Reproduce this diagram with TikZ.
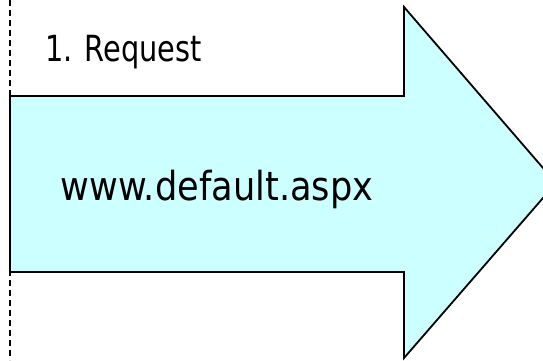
\documentclass[tikz,border=0pt]{standalone}
\usepackage{fontspec}
\setmainfont[FakeStretch=0.88]{DejaVu Sans}
\newfontfamily\narrowfont[FakeStretch=0.8]{DejaVu Sans}
\definecolor{arrowfill}{HTML}{CCFFFF}
\tikzset{
  bigarrow/.style={draw=black, line width=1.8pt, fill=arrowfill, line join=miter},
  guide/.style={draw=black, line width=1.3pt, dash pattern=on 6pt off 4pt},
  label/.style={inner sep=0pt, text=black}
}
\begin{document}
\begin{tikzpicture}[x=1pt,y=-1pt]
\useasboundingbox (0,0) rectangle (543,360);
\clip (0,0) rectangle (543,360);
\draw[bigarrow] (10,96) -- (404,96) -- (404,7) -- (556,183) -- (404,358) -- (404,272) -- (10,272) -- cycle;
\coordinate (gtop) at (10,0);
\coordinate (gbot) at (10,360);
\draw[guide] (gtop) -- (gbot);
\node[label, anchor=base west, font=\narrowfont\fontsize{36}{43}\selectfont] (req) at (45,61) {1. Request};
\node[label, anchor=base, font=\fontsize{40}{48}\selectfont] (url) at (217,200) {www.default.aspx};
\end{tikzpicture}
\end{document}
